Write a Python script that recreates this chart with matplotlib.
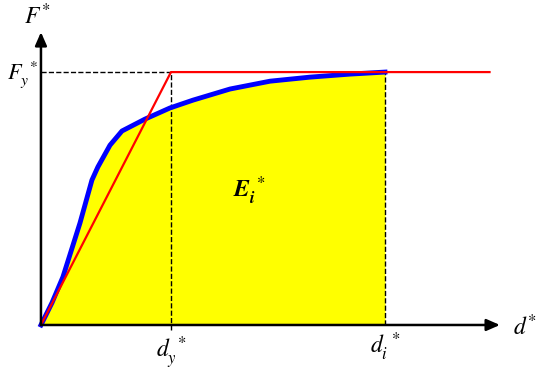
import matplotlib
matplotlib.use("Agg")
import matplotlib.pyplot as plt

plt.rcParams['mathtext.fontset'] = 'stix'
plt.rcParams['font.family'] = 'serif'

# Capacity curve (normalised: d_y* = 1, F_y* = 1)
d_curve = [0.0, 0.085, 0.169, 0.30, 0.392, 0.438, 0.531, 0.623, 0.80, 0.992,
           1.169, 1.454, 1.762, 2.069, 2.377, 2.646]
f_curve = [0.0, 0.088, 0.190, 0.403, 0.573, 0.625, 0.711, 0.767, 0.814, 0.858,
           0.889, 0.933, 0.964, 0.980, 0.992, 1.0]

# Idealised elasto-perfectly plastic line
d_bilin = [0.0, 1.0, 3.45]
f_bilin = [0.0, 1.0, 1.0]

d_y = 1.0
d_i = 2.646
F_y = 1.0

fig = plt.figure(figsize=(5.5, 3.7), dpi=100)
ax = fig.add_axes([0, 0, 1, 1])
ax.set_xlim(-0.315, 3.915)
ax.set_ylim(-0.178, 1.285)
ax.axis('off')

# yellow area under the curve up to d_i*
ax.fill_between(d_curve, f_curve, 0, color='#ffff00', lw=0, zorder=1)

# dashed guide lines
ax.plot([0, d_y], [F_y, F_y], 'k--', lw=1, zorder=2)
ax.plot([d_y, d_y], [-0.02, F_y], 'k--', lw=1, zorder=2)
ax.plot([d_i, d_i], [0, F_y], 'k--', lw=1, zorder=2)

ax.plot(d_curve, f_curve, color='#0000ff', lw=3.5, zorder=3, solid_joinstyle='round')
ax.plot(d_bilin, f_bilin, color='#ff0000', lw=1.6, zorder=4)

# axes arrows
ax.annotate('', xy=(3.53, 0), xytext=(0, 0),
            arrowprops=dict(arrowstyle='-|>,head_length=0.8,head_width=0.35',
                            color='k', lw=1.8, shrinkA=0, shrinkB=0), zorder=5)
ax.annotate('', xy=(0, 1.158), xytext=(0, 0),
            arrowprops=dict(arrowstyle='-|>,head_length=0.8,head_width=0.35',
                            color='k', lw=1.8, shrinkA=0, shrinkB=0), zorder=5)

# labels
ax.text(-0.03, 1.22, r'$F^{*}$', fontsize=17, ha='center', va='center')
ax.text(-0.26, F_y - 0.01, r'$F_{y}^{\ *}$', fontsize=16, ha='left', va='center')
ax.text(3.72, -0.01, r'$d^{*}$', fontsize=17, ha='center', va='center')
ax.text(d_y, -0.11, r'$d_{y}^{\ *}$', fontsize=17, ha='center', va='center')
ax.text(d_i, -0.085, r'$d_{i}^{\ *}$', fontsize=17, ha='center', va='center')
ax.text(1.6, 0.53, r'$\mathbfit{E}_{\mathbfit{i}}^{\ *}$', fontsize=17, ha='center', va='center')

fig.savefig('out.png', dpi=100)
